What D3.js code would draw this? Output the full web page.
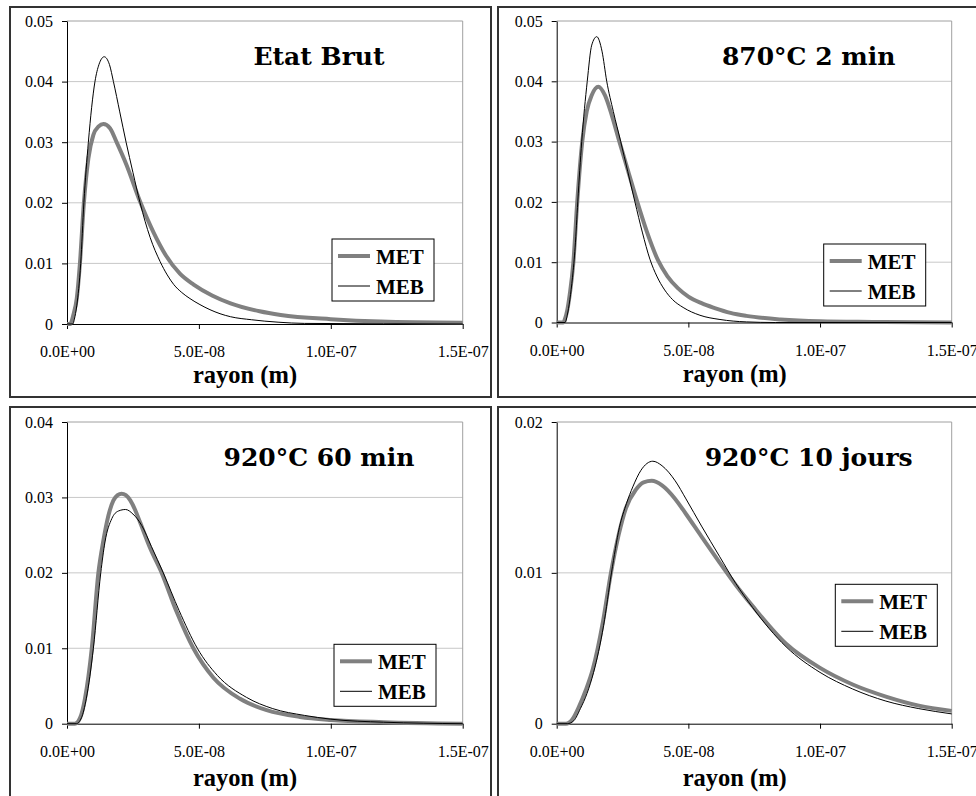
<!DOCTYPE html>
<html>
<head>
<meta charset="utf-8">
<script src="https://cdn.jsdelivr.net/npm/d3@7"></script>
<style>
  html, body { margin: 0; padding: 0; background: #fff; }
  svg { display: block; }
  .serif { font-family: "Liberation Serif", "Times New Roman", serif; }
  .ttl { font-family: "DejaVu Serif", Georgia, serif; font-weight: bold; }
</style>
</head>
<body>
<svg id="chart" width="976" height="796"></svg>
<script>
// ---------------- DATA (radius in nm, fraction) ----------------
const xTickValues = [0, 5e-8, 1e-7, 1.5e-7];
const xTickLabels = ["0.0E+00", "5.0E-08", "1.0E-07", "1.5E-07"];
const seriesNames = ["MET", "MEB"];
const panelTitles = ["Etat Brut", "870°C 2 min", "920°C 60 min", "920°C 10 jours"];
const axisTitle = "rayon (m)";

const yTicksTL = [0, 0.01, 0.02, 0.03, 0.04, 0.05];
const yTicksTR = [0, 0.01, 0.02, 0.03, 0.04, 0.05];
const yTicksBL = [0, 0.01, 0.02, 0.03, 0.04];
const yTicksBR = [0, 0.01, 0.02];

// Etat Brut
const rMET_TL = [0, 1.2, 2.4, 3.7, 4.9, 6.4, 8.1, 10, 12, 13.8, 16.3, 18.8, 22.6, 27.7, 32.7, 37.5, 42.8, 48, 55, 62, 73, 81, 100, 119, 150];
const vMET_TL = [0, 0, 0.0015, 0.0042, 0.01, 0.02, 0.0273, 0.0312, 0.0326, 0.033, 0.0323, 0.030, 0.0262, 0.0202, 0.0152, 0.0113, 0.0083, 0.0065, 0.0047, 0.0034, 0.0021, 0.0015, 0.0008, 0.0004, 0.0002];
const rMEB_TL = [0, 2.2, 2.8, 3.7, 5.2, 6.4, 8.1, 10.6, 12.1, 14.1, 16.1, 17.6, 20, 22.4, 25, 27.7, 31.5, 35.3, 38, 40.5, 43.5, 46.6, 50.4, 58, 62, 70, 80, 90, 150];
const vMEB_TL = [0, 0, 0.0008, 0.003, 0.01, 0.02, 0.03, 0.04, 0.0428, 0.0441, 0.0428, 0.04, 0.035, 0.03, 0.025, 0.02, 0.0143, 0.0103, 0.0081, 0.0065, 0.0052, 0.0042, 0.0032, 0.0017, 0.0012, 0.0007, 0.0003, 0.0001, 0];

// 870°C 2 min
const rMET_TR = [0, 2.5, 3, 4, 5, 6.3, 7.8, 9.7, 11.4, 13.3, 15.8, 18.3, 20.9, 23.8, 27.2, 30.6, 34.2, 38.6, 42, 46, 50, 55, 60, 66, 72, 85, 100, 120, 150];
const vMET_TR = [0, 0, 0.0004, 0.002, 0.0048, 0.0098, 0.02, 0.03, 0.035, 0.0377, 0.0391, 0.0377, 0.0344, 0.03, 0.025, 0.02, 0.0151, 0.0102, 0.0077, 0.0057, 0.0043, 0.0032, 0.0024, 0.0016, 0.0011, 0.0005, 0.0002, 0.0001, 0];
const rMEB_TR = [0, 3.2, 4, 5, 6, 7, 8.0, 9.5, 11.6, 13.3, 15.2, 17.2, 19.0, 21.5, 24.3, 27, 29.7, 32.5, 35.4, 38, 41, 44, 48, 54.4, 62, 72, 83, 150];
const vMEB_TR = [0, 0, 0.0012, 0.0038, 0.0075, 0.0125, 0.02, 0.03, 0.04, 0.046, 0.0474, 0.045, 0.04, 0.035, 0.03, 0.025, 0.02, 0.015, 0.0105, 0.0077, 0.0054, 0.0038, 0.0025, 0.0012, 0.0005, 0.0001, 0, 0];

// 920°C 60 min
const rMET_BL = [0, 3, 5, 6.8, 9.4, 11.9, 13.8, 15.7, 17.6, 19.2, 20.7, 22.3, 24, 26, 27.7, 31.5, 35.9, 41.6, 47.9, 55.5, 65.6, 75.7, 88.3, 100, 120, 150];
const vMET_BL = [0, 0, 0.0008, 0.0033, 0.01, 0.02, 0.0243, 0.0276, 0.0296, 0.0303, 0.0305, 0.0303, 0.0296, 0.0282, 0.0267, 0.0233, 0.02, 0.0148, 0.01, 0.0061, 0.0033, 0.0018, 0.0009, 0.0005, 0.0002, 0];
const rMEB_BL = [0, 3.5, 5.5, 7.3, 10, 12.8, 14.4, 17, 19.5, 22.2, 25, 28.3, 32, 36.5, 42.5, 49.4, 57, 68, 78, 90, 100, 120, 150];
const vMEB_BL = [0, 0, 0.0008, 0.0033, 0.01, 0.02, 0.0241, 0.0272, 0.0282, 0.0284, 0.0278, 0.0263, 0.0235, 0.02, 0.015, 0.01, 0.0064, 0.0035, 0.002, 0.0011, 0.0006, 0.0002, 0];

// 920°C 10 jours
const rMET_BR = [0, 3.5, 6, 8.6, 11, 13.7, 17.5, 20.6, 23.5, 26.3, 30, 33, 36.1, 40, 45, 49.1, 55, 61.8, 68, 74.4, 87.1, 100, 112.4, 125, 137.5, 150];
const vMET_BR = [0, 0, 0.0003, 0.00118, 0.0022, 0.0036, 0.0067, 0.010, 0.0125, 0.0143, 0.0155, 0.016, 0.0161, 0.0158, 0.0149, 0.0139, 0.0124, 0.0107, 0.0092, 0.0078, 0.0053, 0.0037, 0.0026, 0.0018, 0.0012, 0.00085];
const rMEB_BR = [0, 4, 6.5, 9, 11.5, 14, 17.8, 20.8, 23.8, 26.5, 28.9, 32, 36.5, 40, 45, 49.1, 55, 61.8, 68, 74.4, 87.1, 100, 112.4, 125, 137.5, 150];
const vMEB_BR = [0, 0, 0.0002, 0.001, 0.002, 0.0034, 0.0065, 0.010, 0.013, 0.0146, 0.0157, 0.0168, 0.0174, 0.0171, 0.0161, 0.0149, 0.0131, 0.0111, 0.0093, 0.0077, 0.0051, 0.0034, 0.0023, 0.0015, 0.001, 0.00065];

// ---------------- LAYOUT ----------------
const panels = [
  { title: panelTitles[0], box: [10, 7], x0: 67, x1: 462.7, yTop: 21, yBot: 324, yMax: 0.05, yTicks: yTicksTL,
    met: [rMET_TL, vMET_TL], meb: [rMEB_TL, vMEB_TL], legend: [332, 239], axTitleDy: 59 },
  { title: panelTitles[1], box: [498, 7], x0: 556.7, x1: 951.7, yTop: 21, yBot: 322.5, yMax: 0.05, yTicks: yTicksTR,
    met: [rMET_TR, vMET_TR], meb: [rMEB_TR, vMEB_TR], legend: [823.7, 244], axTitleDy: 59 },
  { title: panelTitles[2], box: [10, 407], x0: 67, x1: 462.7, yTop: 422, yBot: 723.7, yMax: 0.04, yTicks: yTicksBL,
    met: [rMET_BL, vMET_BL], meb: [rMEB_BL, vMEB_BL], legend: [334, 644.3], axTitleDy: 62 },
  { title: panelTitles[3], box: [498, 407], x0: 556.7, x1: 951.7, yTop: 422, yBot: 723.7, yMax: 0.02, yTicks: yTicksBR,
    met: [rMET_BR, vMET_BR], meb: [rMEB_BR, vMEB_BR], legend: [835.3, 584.3], axTitleDy: 62 }
];

const svg = d3.select("#chart");
const serif = '"Liberation Serif", "Times New Roman", serif';
const titleFont = '"DejaVu Serif", Georgia, serif';
const metColor = "#808080";

panels.forEach(p => {
  const g = svg.append("g");
  g.append("rect")
    .attr("x", p.box[0]).attr("y", p.box[1])
    .attr("width", 481).attr("height", 390)
    .attr("fill", "none").attr("stroke", "#333").attr("stroke-width", 2);

  const x = d3.scaleLinear().domain([0, 1.5e-7]).range([p.x0, p.x1]);
  const y = d3.scaleLinear().domain([0, p.yMax]).range([p.yBot, p.yTop]);

  g.append("g").selectAll("line").data(p.yTicks.filter(d => d > 0 && d < p.yMax)).join("line")
    .attr("x1", p.x0).attr("x2", p.x1)
    .attr("y1", d => y(d)).attr("y2", d => y(d))
    .attr("stroke", "#c8c8c8").attr("stroke-width", 1);
  g.append("path")
    .attr("d", `M${p.x0},${y(p.yMax)}H${p.x1}V${p.yBot}`)
    .attr("fill", "none").attr("stroke", "#a0a0a0").attr("stroke-width", 1);

  const yAxis = d3.axisLeft(y).tickValues(p.yTicks)
    .tickFormat(d => d === 0 ? "0" : d.toFixed(2))
    .tickSize(5).tickSizeOuter(0).tickPadding(9);
  const ya = g.append("g").attr("transform", `translate(${p.x0},0)`).call(yAxis);
  const xAxis = d3.axisBottom(x).tickValues(xTickValues)
    .tickFormat((d, i) => xTickLabels[i])
    .tickSize(5).tickSizeOuter(0).tickPadding(17);
  const xa = g.append("g").attr("transform", `translate(0,${p.yBot})`).call(xAxis);
  [ya, xa].forEach(a => {
    a.attr("font-family", null).attr("font-size", null);
    a.select(".domain").attr("stroke", "#000");
    a.selectAll(".tick line").attr("stroke", "#000");
    a.selectAll("text").attr("class", "serif")
      .style("font-family", serif).style("font-size", "16px").attr("fill", "#000");
  });

  const line = d3.line().x(d => x(d[0] * 1e-9)).y(d => y(d[1])).curve(d3.curveMonotoneX);
  const metPts = p.met[0].map((r, i) => [r, p.met[1][i]]);
  const mebPts = p.meb[0].map((r, i) => [r, p.meb[1][i]]);
  g.append("path").datum(metPts).attr("d", line)
    .attr("fill", "none").attr("stroke", metColor).attr("stroke-width", 4).attr("stroke-linejoin", "round");
  g.append("path").datum(mebPts).attr("d", line)
    .attr("fill", "none").attr("stroke", "#000").attr("stroke-width", 1);

  g.append("text").text(p.title).attr("class", "ttl")
    .attr("x", p.x0 + 252).attr("y", p.yTop + 44)
    .attr("text-anchor", "middle")
    .style("font-family", titleFont).style("font-weight", "bold").style("font-size", "25px");

  g.append("text").text(axisTitle).attr("class", "serif")
    .attr("x", p.x0 + 178).attr("y", p.yBot + p.axTitleDy)
    .attr("text-anchor", "middle")
    .style("font-family", serif).style("font-weight", "bold").style("font-size", "24.5px");

  const [lx, ly] = p.legend;
  const lg = g.append("g");
  lg.append("rect").attr("x", lx).attr("y", ly).attr("width", 102).attr("height", 62)
    .attr("fill", "#fff").attr("stroke", "#000").attr("stroke-width", 1);
  const rows = [
    { name: seriesNames[0], color: metColor, w: 4, dy: 17 },
    { name: seriesNames[1], color: "#000", w: 1, dy: 47 }
  ];
  rows.forEach(rw => {
    lg.append("line").attr("x1", lx + 6).attr("x2", lx + 38)
      .attr("y1", ly + rw.dy).attr("y2", ly + rw.dy)
      .attr("stroke", rw.color).attr("stroke-width", rw.w);
    lg.append("text").text(rw.name).attr("class", "serif")
      .attr("x", lx + 44).attr("y", ly + rw.dy + 7.5)
      .style("font-family", serif).style("font-weight", "bold").style("font-size", "21px");
  });
});
</script>
</body>
</html>
